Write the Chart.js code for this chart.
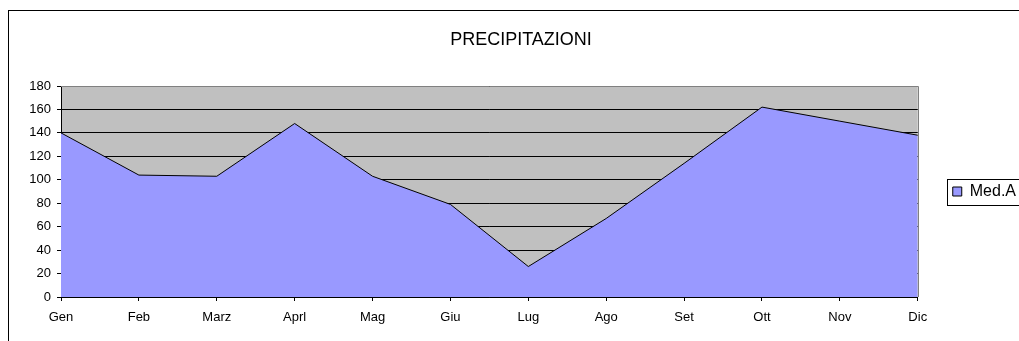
<!DOCTYPE html>
<html>
<head>
<meta charset="utf-8">
<title>PRECIPITAZIONI</title>
<script src="https://cdn.jsdelivr.net/npm/chart.js@4"></script>
<style>
html, body { margin: 0; padding: 0; overflow: hidden; background: #fff; }
#chart1 { position: absolute; left: 0; top: 0; }
</style>
</head>
<body>
<canvas id="chart1" width="1042" height="341"></canvas>
<script>
// mesi e millimetri di pioggia (media)
var mesi = ['Gen', 'Feb', 'Marz', 'Aprl', 'Mag', 'Giu', 'Lug', 'Ago', 'Set', 'Ott', 'Nov', 'Dic'];
var medA = [140, 104, 103, 148, 103, 79, 26, 67, 114, 162, 150, 138];
var yMin = 0, yMax = 180, yStep = 20;

var font = 'Arial, "Liberation Sans", sans-serif';
Chart.defaults.color = '#000';
Chart.defaults.font.family = font;

// sfondo grigio, cornice del grafico, bordo area e riquadro legenda
var cornice = {
    id: 'cornice',
    afterLayout: function(chart) {
        // legenda centrata sull'area del grafico
        var lg = chart.legend, a = chart.chartArea;
        lg.top = a.top;
        lg.bottom = a.bottom;
        lg.height = a.bottom - a.top;
    },
    beforeDraw: function(chart) {
        var ctx = chart.ctx, a = chart.chartArea;
        ctx.save();
        ctx.fillStyle = '#C0C0C0';
        ctx.fillRect(a.left, a.top, a.right - a.left, a.bottom - a.top);
        ctx.strokeStyle = '#000';
        ctx.lineWidth = 1;
        ctx.strokeRect(8.5, 10.5, chart.width + 20, chart.height + 20);
        ctx.restore();
    },
    afterDraw: function(chart) {
        var ctx = chart.ctx, a = chart.chartArea;
        ctx.save();
        ctx.strokeStyle = '#808080';
        ctx.lineWidth = 1;
        ctx.beginPath();
        ctx.moveTo(Math.round(a.left), Math.round(a.top) + 0.5);
        ctx.lineTo(Math.round(a.right) + 0.5, Math.round(a.top) + 0.5);
        ctx.lineTo(Math.round(a.right) + 0.5, Math.round(a.bottom));
        ctx.stroke();
        var hb = chart.legend.legendHitBoxes[0];
        if (hb) {
            var cy = hb.top + hb.height / 2;
            ctx.strokeStyle = '#000';
            ctx.strokeRect(Math.round(hb.left - 6) + 0.5, Math.round(cy - 13) + 0.5, 200, 26);
        }
        ctx.restore();
    }
};

var ctx = document.getElementById('chart1').getContext('2d');
var grafico = new Chart(ctx, {
    type: 'line',
    data: {
        labels: mesi,
        datasets: [{
            label: 'Med.A',
            data: medA,
            fill: 'origin',
            backgroundColor: '#9999FF',
            borderColor: '#000',
            borderWidth: 1,
            tension: 0,
            pointRadius: 0
        }]
    },
    options: {
        responsive: false,
        animation: false,
        devicePixelRatio: 1,
        layout: { padding: { left: 16, top: 0, right: 16, bottom: 0 } },
        plugins: {
            title: {
                display: true,
                text: 'PRECIPITAZIONI',
                color: '#000',
                font: { size: 18, weight: 'normal', family: font },
                padding: { top: 29, bottom: 35.4 }
            },
            legend: {
                position: 'right',
                labels: {
                    boxWidth: 9,
                    boxHeight: 9,
                    padding: 35,
                    color: '#000',
                    font: { size: 16, family: font }
                }
            },
            tooltip: { enabled: false }
        },
        scales: {
            x: {
                offset: false,
                grid: { drawOnChartArea: false, drawTicks: true, tickLength: 4, color: '#000' },
                border: { color: '#000', width: 1 },
                ticks: { padding: 9, maxRotation: 0, autoSkip: false, font: { size: 13 } },
                afterFit: function(scale) { scale.height = 44; }
            },
            y: {
                min: yMin,
                max: yMax,
                grid: { color: '#000', tickLength: 4 },
                border: { color: '#000', width: 1 },
                ticks: { stepSize: yStep, padding: 6, font: { size: 13 } },
                afterFit: function(scale) { scale.width = 45; }
            }
        }
    },
    plugins: [cornice]
});
</script>
</body>
</html>
